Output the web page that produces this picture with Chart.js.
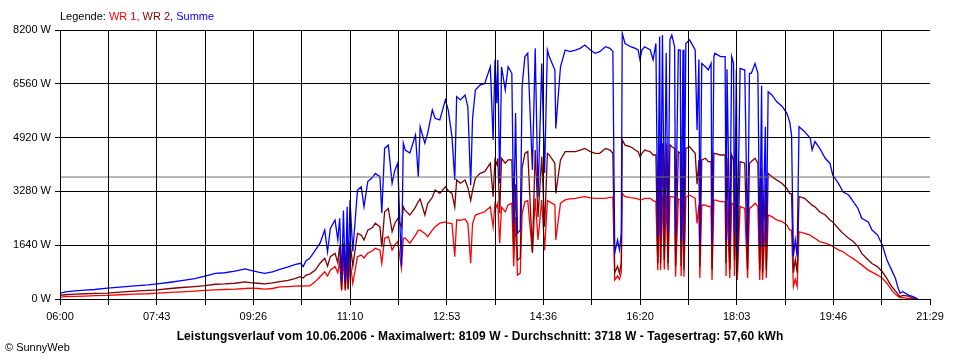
<!DOCTYPE html>
<html lang="de">
<head>
<meta charset="UTF-8">
<title>Leistungsverlauf 10.06.2006</title>
<script src="https://cdn.jsdelivr.net/npm/chart.js"></script>
<style>
  body { margin: 0; background: #fff; font-family: "Liberation Sans", Arial, sans-serif; }
  #wrap { position: relative; width: 960px; height: 360px; }
  #legend { position: absolute; left: 60px; top: 10px; font-size: 11px; white-space: nowrap; }
  #title { position: absolute; left: 0; width: 960px; top: 329px; text-align: center; font-size: 12px; font-weight: bold; white-space: nowrap; letter-spacing: 0.1px; }
  #copy { position: absolute; left: 5px; top: 341px; font-size: 11px; }
</style>
</head>
<body>
<div id="wrap">
  <canvas id="chart" width="960" height="360"></canvas>
  <div id="legend">Legende: <span style="color:#ff0000">WR 1,</span> <span style="color:#800000">WR 2,</span> <span style="color:#0000ff">Summe</span></div>
  <div id="title">Leistungsverlauf vom 10.06.2006 - Maximalwert: 8109 W - Durchschnitt: 3718 W - Tagesertrag: 57,60 kWh</div>
  <div id="copy">© SunnyWeb</div>
</div>
<script>
// Minuten nach 06:00
const minutes = [
  0, 6, 16, 27, 37, 51, 64, 80, 94, 104, 118, 130, 144, 155, 166, 176, 187, 198, 203, 212,
  219, 227, 235, 244, 251, 257, 260, 263, 267, 273, 278, 283, 286, 289, 294, 297, 299, 301, 303, 305,
  307, 308, 310, 313, 318, 322, 325, 329, 334, 337, 342, 344, 347, 351, 355, 358, 361, 365, 367, 369,
  374, 380, 383, 385, 390, 393, 398, 401, 406, 412, 415, 419, 422, 424, 428, 433, 436, 439, 441, 444,
  449, 454, 460, 463, 465, 467, 468, 470, 472, 476, 479, 483, 485, 487, 489, 492, 494, 497, 500, 505,
  508, 511, 515, 518, 521, 523, 529, 530, 535, 540, 545, 551, 556, 561, 567, 572, 577, 583, 588, 591,
  593, 596, 598, 600, 601, 604, 610, 615, 618, 620, 622, 625, 631, 634, 637, 639, 641, 642, 644, 646,
  648, 650, 652, 654, 657, 658, 661, 663, 664, 666, 667, 669, 673, 679, 681, 683, 684, 686, 690, 693,
  696, 697, 699, 700, 706, 711, 712, 713, 716, 718, 720, 721, 723, 724, 727, 732, 735, 737, 739, 743,
  746, 748, 750, 751, 754, 755, 757, 761, 766, 772, 777, 780, 782, 784, 786, 788, 790, 796, 802, 804,
  807, 812, 818, 823, 826, 832, 837, 843, 848, 853, 857, 864, 868, 874, 879, 884, 889, 893, 896, 898,
  901, 907, 912, 917
];

const wr1 = [
  60, 70, 80, 90, 100, 110, 130, 150, 160, 180, 200, 220, 240, 260, 280, 290, 300, 320, 330, 320,
  300, 320, 370, 380, 390, 400, 390, 400, 400, 530, 680, 830, 700, 880, 990, 800, 1140, 250, 1200, 250,
  1290, 280, 1190, 480, 1290, 1340, 1250, 1400, 1470, 1550, 1490, 1090, 1850, 1900, 1490, 1650, 1750, 940, 1850, 1860,
  1700, 1950, 2100, 2100, 2000, 1900, 2100, 2200, 2310, 2350, 2310, 2300, 1290, 2410, 2400, 2440, 2300, 1090, 2300, 2560,
  2610, 2660, 2810, 2200, 2920, 2800, 2920, 1700, 2800, 2660, 2870, 2920, 1000, 2500, 730, 790, 2600, 2970, 3000, 1400,
  3070, 1800, 3020, 1490, 3000, 2970, 2870, 1800, 2920, 3020, 3050, 3070, 3100, 3120, 3080, 3070, 3070, 3070, 3100, 3100,
  580, 700, 600, 800, 3220, 3120, 3090, 3070, 3050, 3020, 3030, 3070, 3070, 3000, 2970, 880, 3170, 880, 3170, 900,
  3170, 880, 3120, 3120, 3100, 680, 3050, 3020, 700, 3050, 680, 3100, 3170, 3070, 2300, 2870, 640, 2870, 2860, 2820,
  2820, 580, 3000, 3020, 2970, 2970, 700, 2900, 640, 2920, 2870, 700, 2820, 580, 2820, 2760, 640, 2760, 2800, 2920,
  2820, 580, 2700, 580, 2400, 640, 2560, 2510, 2410, 2360, 2250, 2100, 2100, 380, 600, 380, 2050, 2000, 1950, 1900,
  1850, 1750, 1700, 1650, 1600, 1500, 1440, 1320, 1230, 1130, 1040, 880, 820, 730, 630, 480, 270, 150, 80, 40,
  40, 20, 10, 0
];

const wr2 = [
  110, 130, 150, 160, 170, 180, 210, 240, 260, 280, 320, 350, 380, 410, 450, 460, 480, 520, 500, 480,
  460, 490, 530, 570, 620, 680, 640, 730, 760, 880, 1090, 1240, 1000, 1290, 1390, 1100, 1650, 300, 1700, 300,
  1800, 320, 1750, 1000, 2000, 1950, 1800, 2100, 2180, 2310, 2200, 1590, 2660, 2760, 2050, 2310, 2450, 2200, 2810, 2700,
  2560, 2800, 2970, 3050, 2560, 2900, 3100, 3320, 3220, 3420, 3300, 3220, 2800, 3630, 3530, 3630, 3400, 3000, 3300, 3680,
  3830, 3880, 4140, 3120, 4240, 4100, 4290, 2610, 4290, 4140, 4240, 4240, 1600, 3500, 1190, 1250, 4000, 4440, 4500, 1440,
  4540, 2500, 4340, 2200, 4440, 4390, 4140, 3220, 4240, 4490, 4490, 4490, 4540, 4590, 4490, 4440, 4440, 4590, 4540, 4440,
  800, 1000, 790, 1100, 4850, 4690, 4640, 4540, 4490, 4340, 4440, 4540, 4490, 4390, 4390, 1090, 4700, 1090, 4750, 1200,
  4750, 1090, 4700, 4640, 4590, 1000, 4490, 4440, 1000, 4500, 900, 4590, 4640, 4440, 3500, 4240, 1000, 4240, 4290, 4190,
  4190, 900, 4440, 4440, 4390, 4390, 1090, 4300, 900, 4390, 4240, 1200, 4190, 800, 4190, 4140, 900, 4140, 4190, 4290,
  4140, 900, 4000, 800, 3500, 900, 3830, 3730, 3630, 3520, 3370, 3220, 3200, 800, 1200, 800, 3120, 3070, 2910, 2860,
  2810, 2660, 2560, 2410, 2350, 2150, 2000, 1850, 1750, 1600, 1390, 1190, 1080, 980, 830, 620, 380, 250, 140, 70,
  110, 90, 30, 0
];

const summe = [
  170, 220, 250, 270, 290, 330, 360, 400, 430, 460, 510, 560, 620, 700, 780, 800, 850, 920, 880, 820,
  780, 830, 900, 980, 1050, 1090, 990, 1170, 1240, 1490, 1700, 2100, 1440, 2150, 2410, 1800, 2460, 550, 2700, 500,
  2810, 600, 3020, 1450, 3320, 3420, 2810, 3580, 3700, 3830, 3730, 2620, 4590, 4690, 3530, 3930, 4140, 1000, 4750, 4540,
  4450, 5000, 3730, 5250, 4750, 5050, 5760, 5510, 5460, 6070, 5760, 4950, 3630, 6170, 6070, 6220, 5860, 3470, 5500, 6370,
  6520, 6570, 7080, 4850, 7290, 5970, 7290, 3530, 7080, 6370, 7080, 6880, 2300, 5670, 2000, 2100, 6500, 7390, 7490, 3930,
  7640, 3120, 7180, 3840, 7590, 7390, 6980, 5200, 7080, 7590, 7540, 7590, 7640, 7740, 7590, 7490, 7540, 7690, 7640, 7540,
  1400, 1800, 1500, 2000, 8100, 7790, 7690, 7640, 7590, 7290, 7590, 7690, 7590, 7290, 7790, 1900, 8000, 1900, 8050, 2200,
  7500, 2000, 7900, 8050, 7690, 2000, 7590, 7590, 1800, 7600, 1700, 7790, 7900, 7590, 5150, 7300, 1700, 7180, 7080, 6980,
  7180, 1700, 7400, 7490, 7390, 7390, 1800, 7000, 1700, 7390, 7180, 2000, 7000, 1400, 7030, 6980, 1700, 6880, 6880, 7180,
  6880, 1600, 6500, 1600, 5250, 1700, 6320, 6220, 6020, 5870, 5660, 5400, 5000, 1300, 1800, 1290, 5250, 5100, 4900, 4540,
  4800, 4600, 4290, 4140, 3780, 3530, 3270, 3170, 2970, 2760, 2460, 2350, 2100, 1950, 1650, 1190, 880, 630, 330, 180,
  220, 120, 70, 0
];

const durchschnitt = 3718;
const yTicks = [0, 1640, 3280, 4920, 6560, 8200];
const xTickLabels = ['06:00', '07:43', '09:26', '11:10', '12:53', '14:36', '16:20', '18:03', '19:46', '21:29'];
const xMax = 930;

Chart.defaults.font.family = '"Liberation Sans", Arial, sans-serif';
Chart.defaults.font.size = 11;
Chart.defaults.color = '#000';

function serie(values) {
  return minutes.map((m, i) => ({ x: m, y: values[i] }));
}

const ctx = document.getElementById('chart').getContext('2d');
new Chart(ctx, {
  type: 'line',
  data: {
    datasets: [
      {
        label: 'Durchschnitt',
        data: [{ x: 0, y: durchschnitt }, { x: xMax, y: durchschnitt }],
        borderColor: '#6e6e6e',
        borderWidth: 1,
        order: -1
      },
      // Summe liegt oben, die Wechselrichter darunter
      { label: 'Summe', data: serie(summe), borderColor: '#0000ff', borderWidth: 1.3, order: 1 },
      { label: 'WR 2', data: serie(wr2), borderColor: '#800000', borderWidth: 1.3, order: 2 },
      { label: 'WR 1', data: serie(wr1), borderColor: '#ff0000', borderWidth: 1.3, order: 3 }
    ]
  },
  options: {
    responsive: false,
    animation: false,
    layout: { padding: { top: 30, right: 30, left: 0, bottom: 0 } },
    elements: { point: { radius: 0 }, line: { tension: 0 } },
    plugins: { legend: { display: false }, tooltip: { enabled: false } },
    scales: {
      x: {
        type: 'linear',
        min: 0,
        max: xMax,
        afterBuildTicks: (scale) => {
          scale.ticks = [];
          for (let i = 0; i <= 18; i++) scale.ticks.push({ value: i * xMax / 18 });
        },
        afterFit: (scale) => { scale.height = 61; },
        border: { display: false },
        grid: {
          z: 1,
          color: (c) => (c.index === 18 ? 'rgba(0,0,0,0)' : '#000'),
          tickColor: '#000',
          tickLength: 6,
          lineWidth: 1
        },
        ticks: {
          autoSkip: false,
          maxRotation: 0,
          padding: 5,
          callback: (v, i) => (i % 2 ? '' : xTickLabels[i / 2])
        }
      },
      y: {
        min: 0,
        max: 8200,
        afterBuildTicks: (scale) => { scale.ticks = yTicks.map(v => ({ value: v })); },
        afterFit: (scale) => { scale.width = 60; },
        border: { display: false },
        grid: { z: 1, color: '#000', tickLength: 5, lineWidth: 1 },
        ticks: { padding: 4, callback: (v) => v + ' W' }
      }
    }
  }
});
</script>
</body>
</html>
